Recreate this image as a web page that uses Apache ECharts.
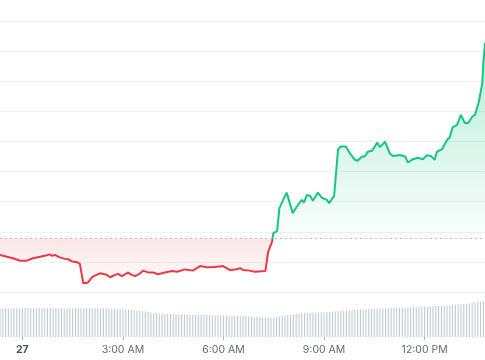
<!DOCTYPE html>
<html><head><meta charset="utf-8">
<script src="https://cdn.jsdelivr.net/npm/echarts@6/dist/echarts.min.js"></script>
<style>html,body{margin:0;padding:0;background:#fff}#c{width:485px;height:360px}</style>
</head><body><div id="c"></div>
<script>
// minutes since 00:00 on the 27th
const priceTimes = [-40,-17,-4,8,19,32,44,49,53,58,67,76,82,89,98,103,109,117,126,139,142,151,157,166,171,178,189,196,202,211,216,225,234,243,255,268,277,291,305,318,330,341,359,372,381,390,395,407,416,435,440,447,449,456,460,464,473,484,491,500,504,509,515,520,529,536,545,549,558,565,570,579,586,595,600,608,613,618,626,635,640,649,658,663,676,685,690,699,708,717,724,731,738,742,751,760,765,770,778,785,792,798,805,810,817,823,825,828];
const priceValues = [101.23,101.12,101.04,101.04,101.12,101.17,101.22,101.25,101.20,101.23,101.15,101.10,101.09,101.01,100.99,100.93,100.29,100.31,100.51,100.62,100.64,100.57,100.49,100.57,100.60,100.53,100.64,100.57,100.53,100.62,100.71,100.65,100.65,100.59,100.65,100.70,100.67,100.75,100.71,100.86,100.82,100.82,100.86,100.73,100.75,100.79,100.73,100.71,100.67,100.70,101.34,101.67,101.95,102.03,102.78,102.95,103.30,102.62,102.83,103.06,102.97,103.22,103.20,103.03,103.30,103.13,103.06,102.95,103.19,104.74,104.83,104.83,104.61,104.39,104.36,104.50,104.50,104.66,104.69,104.96,104.81,104.99,104.59,104.52,104.55,104.50,104.30,104.41,104.46,104.41,104.54,104.52,104.39,104.66,104.74,105.05,105.14,105.47,105.55,105.88,105.61,105.61,105.82,105.88,106.32,106.93,107.60,108.27];
const baselinePrice = 101.77;
const volumeStart = -40;
const volumeStep = 5;
const volumeValues = [288,286,289,287,288,290,287,286,288,289,287,288,286,287,289,288,287,286,288,287,289,288,287,288,286,287,288,289,287,286,288,287,288,289,287,286,287,288,286,285,286,284,283,282,
280,277,274,271,268,265,262,
258,254,250,246,242,238,234,
232,231,230,229,229,228,227,226,226,225,224,223,223,222,221,220,220,219,218,218,217,216,215,215,214,213,213,212,211,
209,207,205,203,201,199,197,195,194,193,192,
196,201,206,211,216,221,226,230,234,238,
239,240,241,242,242,243,244,
246,248,250,252,254,256,258,260,262,264,266,268,270,272,274,276,278,280,
281,282,284,285,286,287,289,290,291,292,294,295,296,297,299,300,301,303,
304,305,307,308,309,311,312,313,315,316,318,320,
322,325,327,330,333,336,340,344,349,354,360];
const tickMinutes = [0,180,360,540,720];
const tickLabels = ['27','3:00 AM','6:00 AM','9:00 AM','12:00 PM'];

const priceData = priceTimes.map((t,i)=>[t, priceValues[i]]);
const volumeData = volumeValues.map((v,i)=>[volumeStart + i*volumeStep, v]);
const maxP = Math.max(...priceValues), minP = Math.min(...priceValues);
const b = (maxP - baselinePrice)/(maxP - minP);

const GREEN = '#16c784', RED = '#ea3943';
const chart = echarts.init(document.getElementById('c'), null, {renderer:'canvas'});
chart.setOption({
  animation:false,
  backgroundColor:'#fff',
  textStyle:{fontFamily:'Inter'},
  grid:[
    {left:0,right:0,top:21,height:271},
    {left:0,right:0,top:297,bottom:23}
  ],
  xAxis:[
    {type:'value',gridIndex:0,min:-40,max:828,show:false},
    {type:'value',gridIndex:1,min:-40,max:828,
     axisLine:{show:false},splitLine:{show:false},
     axisTick:{show:true,length:3,customValues:tickMinutes,lineStyle:{color:'#a6b0c3'}},
     axisLabel:{customValues:tickMinutes,margin:7,color:'#616a7b',fontSize:10.5,fontFamily:'Inter',
       formatter:function(v){const i=tickMinutes.indexOf(Math.round(v)); const s=tickLabels[i]; return /^\d+$/.test(s)?'{d|'+s+'}':s;},
       rich:{d:{fontWeight:'bold',color:'#4a5263',fontSize:10.5,fontFamily:'Inter'}}}
    }
  ],
  yAxis:[
    {type:'value',gridIndex:0,min:100,max:109,interval:1,axisLabel:{show:false},axisLine:{show:false},axisTick:{show:false},
     splitLine:{lineStyle:{color:'#eff2f5',width:1}}},
    {type:'value',gridIndex:1,min:0,max:400,show:false,splitLine:{show:false}}
  ],
  visualMap:{type:'piecewise',show:false,seriesIndex:0,dimension:1,
    pieces:[{min:0,max:baselinePrice,color:RED},{gt:baselinePrice,max:1000,color:GREEN}]},
  series:[
    {type:'line',xAxisIndex:0,yAxisIndex:0,data:priceData,showSymbol:false,symbol:'none',
     lineStyle:{width:2},
     areaStyle:{origin:baselinePrice,opacity:1,color:{type:'linear',x:0,y:0,x2:0,y2:1,colorStops:[
       {offset:0,color:'rgba(22,199,132,0.32)'},
       {offset:b,color:'rgba(22,199,132,0.02)'},
       {offset:b,color:'rgba(234,57,67,0.13)'},
       {offset:1,color:'rgba(234,57,67,0.02)'}]}},
     markLine:{silent:true,symbol:['none','none'],label:{show:false},
       lineStyle:{type:[2,3],color:'#b8c0cc',width:1},
       data:[{yAxis:baselinePrice}]}
    },
    {type:'bar',xAxisIndex:1,yAxisIndex:1,data:volumeData,barWidth:1.1,
     itemStyle:{color:'#c3c9d4'}}
  ]
});
</script></body></html>
